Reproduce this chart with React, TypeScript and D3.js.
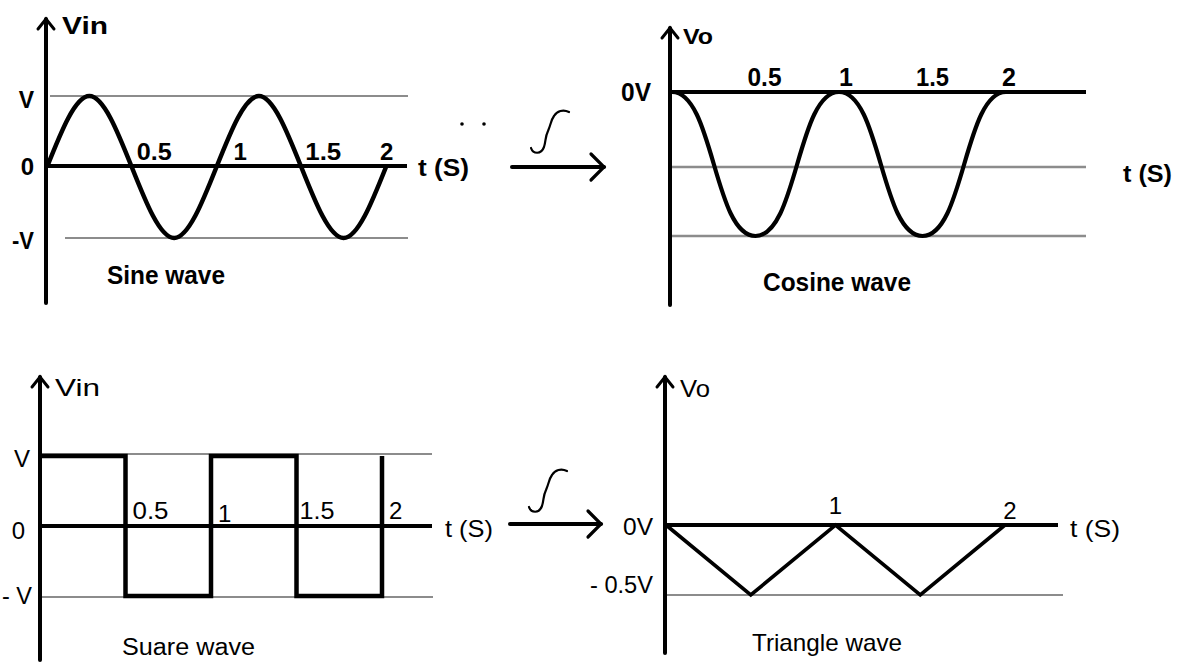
import React from "react";
import * as d3 from "d3";

// ---------- data ----------
const timeTicks = [0.5, 1, 1.5, 2];
const timeTickLabels = ["0.5", "1", "1.5", "2"];
const triangleTicks = [1, 2];
const triangleTickLabels = ["1", "2"];

const sineT = [0, 0.25, 0.5, 0.75, 1, 1.25, 1.5, 1.75, 2];
const sineV = [0, 1, 0, -1, 0, 1, 0, -1, 0];
const cosineT = [0, 0.5, 1, 1.5, 2];
const cosineV = [0, -1, 0, -1, 0];
const squareT = [0, 0.5, 1, 1.5, 2];
const squareV = [1, -1, 1, -1, 1];
const triangleT = [0, 0.5, 1, 1.5, 2];
const triangleV = [0, -0.5, 0, -0.5, 0];

const FONT = "'Liberation Sans', Arial, Helvetica, sans-serif";
const GRAY = "#8c8c8c";

type Pt = [number, number];
const zip = (t: number[], v: number[]): Pt[] => t.map((d, i) => [d, v[i]]);

function Arrow({ x, y0, y1 }: { x: number; y0: number; y1: number }) {
  return (
    <g stroke="#000" fill="none" strokeLinecap="round">
      <line x1={x} x2={x} y1={y0} y2={y1} strokeWidth={4} />
      <polyline points={`${x - 8},${y0 + 10} ${x},${y0} ${x + 8},${y0 + 10}`} strokeWidth={3} />
    </g>
  );
}

function HArrow({ x0, x1, y }: { x0: number; x1: number; y: number }) {
  return (
    <g stroke="#000" fill="none" strokeLinecap="round">
      <line x1={x0} x2={x1} y1={y} y2={y} strokeWidth={4} />
      <polyline points={`${x1 - 13},${y - 13} ${x1},${y} ${x1 - 13},${y + 13}`} strokeWidth={3.2} />
    </g>
  );
}

function Integral({ x, y }: { x: number; y: number }) {
  return (
    <path
      transform={`translate(${x},${y})`}
      d="M0,38 C2,44 10,45 13,37 C15,31 14,27 17,21 C20,14 20,10 23,6 C26,1 32,-1 38,2"
      fill="none"
      stroke="#000"
      strokeWidth={2.2}
      strokeLinecap="round"
    />
  );
}

function T(props: any) {
  const { children, bold, size, ...rest } = props;
  return (
    <text
      fontFamily={FONT}
      fontWeight={bold ? "bold" : "normal"}
      fontSize={size || 22}
      fill="#000"
      lengthAdjust="spacingAndGlyphs"
      {...rest}
    >
      {children}
    </text>
  );
}

export default function App() {
  // ----- Sine panel -----
  const xS = d3.scaleLinear().domain([0, 2]).range([47, 386]);
  const yS = d3.scaleLinear().domain([-1, 1]).range([238, 96]);
  const sinePath = d3
    .line<Pt>()
    .x((d) => xS(d[0]))
    .y((d) => yS(d[1]))
    .curve(d3.curveNatural)(zip(sineT, sineV)) as string;
  const sineDx = [5, 17, 4, -6];
  const sineLen = [35, 0, 36, 0];

  // ----- Cosine panel -----
  const xC = d3.scaleLinear().domain([0, 2]).range([672, 1006]);
  const yC = d3.scaleLinear().domain([-1, 0]).range([236, 92]);
  const cosPath = d3
    .line<Pt>()
    .x((d) => xC(d[0]))
    .y((d) => yC(d[1]))
    .curve(d3.curveBumpX)(zip(cosineT, cosineV)) as string;
  const cosDx = [9, 7, 10, 3];
  const cosLen = [34, 0, 33, 0];

  // ----- Square panel -----
  const xQ = d3.scaleLinear().domain([0, 2]).range([40, 382]);
  const yQ = d3.scaleLinear().domain([-1, 1]).range([596, 456]);
  const sqPath = d3
    .line<Pt>()
    .x((d) => xQ(d[0]))
    .y((d) => yQ(d[1]))
    .curve(d3.curveStepAfter)(zip(squareT, squareV)) as string;
  const sqDx = [7, 7, 3, 7];
  const sqLen = [36, 0, 35, 0];

  // ----- Triangle panel -----
  const xR = d3.scaleLinear().domain([0, 2]).range([666, 1005]);
  const yR = d3.scaleLinear().domain([-0.5, 0]).range([595, 525]);
  const triPath = d3
    .line<Pt>()
    .x((d) => xR(d[0]))
    .y((d) => yR(d[1]))(zip(triangleT, triangleV)) as string;
  const triDx = [0, 5];
  const triBase = [514, 519];

  const lenProp = (n: number) => (n > 0 ? { textLength: n } : {});

  return (
    <svg
      width={1180}
      height={662}
      style={{ position: "absolute", left: 0, top: 0, background: "#fff" }}
    >
      <rect width={1180} height={662} fill="#fff" />

      {/* ===== Sine wave ===== */}
      <line x1={50} x2={408} y1={yS(1)} y2={yS(1)} stroke={GRAY} strokeWidth={2} />
      <line x1={65} x2={408} y1={yS(-1)} y2={yS(-1)} stroke={GRAY} strokeWidth={2} />
      <line x1={46} x2={407} y1={166} y2={166} stroke="#000" strokeWidth={4} />
      <Arrow x={46} y0={19} y1={303} />
      <path d={sinePath} fill="none" stroke="#000" strokeWidth={4.5} />
      <T bold size={23} x={62} y={34} textLength={46}>Vin</T>
      <T bold size={23} x={34} y={108} textAnchor="end">V</T>
      <T bold size={24} x={34} y={175} textAnchor="end">0</T>
      <T bold size={23} x={34} y={249} textAnchor="end" textLength={22}>-V</T>
      {timeTicks.map((t, i) => (
        <T key={"s" + i} bold size={24} x={xS(t) + sineDx[i]} y={160} {...lenProp(sineLen[i])}>
          {timeTickLabels[i]}
        </T>
      ))}
      <T bold size={24} x={418} y={176} textLength={51}>t (S)</T>
      <T bold size={26} x={107} y={284} textLength={118}>Sine wave</T>
      <circle cx={462} cy={124} r={1.8} fill="#000" />
      <circle cx={484} cy={124} r={1.8} fill="#000" />

      {/* arrow top */}
      <HArrow x0={512} x1={604} y={167} />
      <Integral x={531} y={110} />

      {/* ===== Cosine wave ===== */}
      <line x1={672} x2={1086} y1={167} y2={167} stroke={GRAY} strokeWidth={2.4} />
      <line x1={672} x2={1086} y1={236} y2={236} stroke={GRAY} strokeWidth={2.4} />
      <line x1={670} x2={1086} y1={92} y2={92} stroke="#000" strokeWidth={4} />
      <Arrow x={670} y0={28} y1={305} />
      <path d={cosPath} fill="none" stroke="#000" strokeWidth={4.2} />
      <T bold size={22} x={683} y={44} textLength={30}>Vo</T>
      <T bold size={25} x={651} y={101} textAnchor="end" textLength={30}>0V</T>
      {timeTicks.map((t, i) => (
        <T key={"c" + i} bold size={25} x={xC(t) + cosDx[i]} y={86} textAnchor="middle" {...lenProp(cosLen[i])}>
          {timeTickLabels[i]}
        </T>
      ))}
      <T bold size={24} x={1123} y={182} textLength={49}>t (S)</T>
      <T bold size={25} x={763} y={291} textLength={148}>Cosine wave</T>

      {/* ===== Square wave ===== */}
      <line x1={40} x2={432} y1={454} y2={454} stroke={GRAY} strokeWidth={2} />
      <line x1={40} x2={433} y1={597} y2={597} stroke={GRAY} strokeWidth={2} />
      <line x1={40} x2={432} y1={526} y2={526} stroke="#000" strokeWidth={4} />
      <Arrow x={40} y0={377} y1={660} />
      <path d={sqPath} fill="none" stroke="#000" strokeWidth={4.5} />
      <T size={24} x={55} y={396} textLength={45}>Vin</T>
      <T size={24} x={30} y={467} textAnchor="end">V</T>
      <T size={24} x={25} y={539} textAnchor="end">0</T>
      <T size={24} x={32} y={604} textAnchor="end" textLength={30}>- V</T>
      {timeTicks.map((t, i) => (
        <T key={"q" + i} size={24} x={xQ(t) + sqDx[i]} y={i === 1 ? 522 : 519} {...lenProp(sqLen[i])}>
          {timeTickLabels[i]}
        </T>
      ))}
      <T size={24} x={445} y={537} textLength={48}>t (S)</T>
      <T size={23} x={122} y={655} textLength={133}>Suare wave</T>

      {/* arrow bottom */}
      <HArrow x0={510} x1={601} y={524} />
      <Integral x={529} y={469} />

      {/* ===== Triangle wave ===== */}
      <line x1={667} x2={1063} y1={595} y2={595} stroke={GRAY} strokeWidth={2} />
      <line x1={665} x2={1058} y1={525} y2={525} stroke="#000" strokeWidth={4} />
      <Arrow x={665} y0={377} y1={653} />
      <path d={triPath} fill="none" stroke="#000" strokeWidth={3.6} />
      <T size={23} x={680} y={397} textLength={30}>Vo</T>
      <T size={23} x={653} y={535} textAnchor="end" textLength={30}>0V</T>
      <T size={23} x={653} y={593} textAnchor="end" textLength={63}>- 0.5V</T>
      {triangleTicks.map((t, i) => (
        <T key={"r" + i} size={24} x={xR(t) + triDx[i]} y={triBase[i]} textAnchor="middle">
          {triangleTickLabels[i]}
        </T>
      ))}
      <T size={24} x={1070} y={537} textLength={50}>t (S)</T>
      <T size={24} x={752} y={651} textLength={150}>Triangle wave</T>
    </svg>
  );
}
